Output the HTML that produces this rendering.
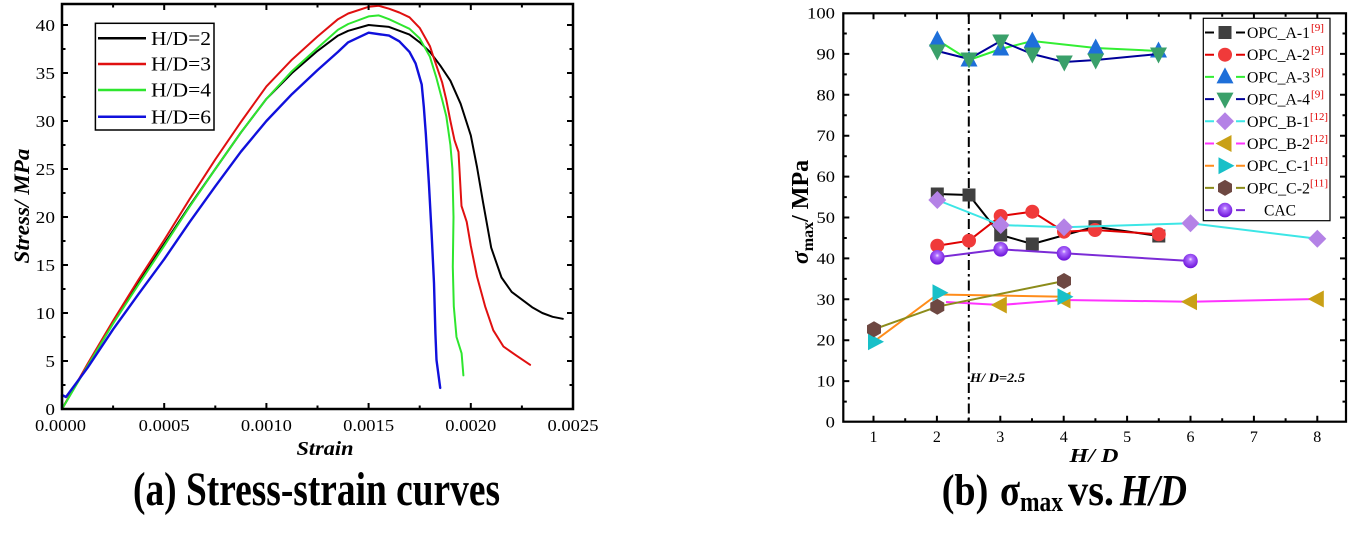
<!DOCTYPE html>
<html>
<head>
<meta charset="utf-8">
<style>
  html,body{margin:0;padding:0;background:#fff;}
  svg{display:block;}
  text{font-family:"Liberation Serif","DejaVu Serif",serif;fill:#000;}
</style>
</head>
<body>
<svg width="1353" height="537" viewBox="0 0 1353 537" xmlns="http://www.w3.org/2000/svg">
  <defs>
    <radialGradient id="sph" cx="50%" cy="38%" r="62%">
      <stop offset="0%" stop-color="#f4e8ff"/>
      <stop offset="22%" stop-color="#b070ff"/>
      <stop offset="100%" stop-color="#6a0fd8"/>
    </radialGradient>
  </defs>
  <rect x="0" y="0" width="1353" height="537" fill="#fff"/>

  <!-- ================= LEFT CHART ================= -->
  <g fill="none" stroke-linejoin="round" stroke-linecap="round" stroke-width="2">
    <polyline stroke="#000000" points="62,409 87.6,364.8 113.1,322.6 138.7,282.3 164.2,243.9 189.8,205.5 215.3,169 240.9,132.5 266.4,98.9 292,73 317.5,50.9 338,35.6 348.2,30.8 368.6,25 389,26.9 409.5,34.6 419.7,42.3 429.9,51.9 440.1,65.3 450.4,80.7 460.6,103.7 470.8,135.4 477,167 483.1,202.6 491.2,247.7 501.5,277.5 511.7,291.9 532.1,307.2 542.3,313 552.6,316.8 562.8,318.8"/>
    <polyline stroke="#e01010" points="62,409 87.6,363.9 113.1,320.7 138.7,279.4 164.2,240 189.8,198.8 215.3,159.4 240.9,122 266.4,86.4 292,59.6 317.5,36.5 338,19.2 348.2,13.5 368.6,6.8 378.8,5.8 389,8.7 399.3,12.5 409.5,17.3 419.7,27.9 429.9,46.1 434,58.6 442.2,82.6 446.3,99.9 450.4,121 454.5,140.2 458.5,152 461.5,206 466.7,221.8 470.8,245.8 477,276.5 485.1,306.3 493.3,330.3 503.5,346.6 515.8,355.2 530.1,364.8"/>
    <polyline stroke="#2ee62e" points="62,409 87.6,365.8 113.1,323.6 138.7,284.2 164.2,245.8 189.8,206.4 215.3,169 240.9,132.5 266.4,98.9 292,71.1 317.5,48 338,29.8 348.2,24 368.6,16.4 378.8,15.4 389,19.2 399.3,24 409.5,28.8 419.7,38.4 429.9,56.7 436.1,76.8 442.2,99.9 446.3,116.2 450.4,145 452.4,169 453.5,217 452.8,266.9 453.8,306.3 456.5,337 461.6,353.3 463.4,375.4"/>
    <polyline stroke="#1010dc" stroke-width="2.4" points="62,409 62,395 66,397 87.6,367.7 113.1,329.3 138.7,293.8 164.2,259.2 189.8,221.8 215.3,186.3 240.9,151.7 266.4,121 292,94.1 317.5,70.1 338,51.9 348.2,42.3 368.6,32.7 389,35.6 399.3,41.3 409.5,51.9 415.6,63.4 421.7,84.5 423.8,106.6 425.8,133.5 428.9,183.4 431.6,233.3 434,283.2 435.4,333.2 436.5,360 440.2,387.9"/>
  </g>

  <!-- frame -->
  <rect x="62" y="4" width="511" height="405" fill="none" stroke="#000" stroke-width="2.5"/>
  <!-- ticks -->
  <path stroke="#000" stroke-width="2" fill="none" d="
    M62,409v-6 M164.2,409v-6 M266.4,409v-6 M368.6,409v-6 M470.8,409v-6 M573,409v-6
    M113.1,409v-3.5 M215.3,409v-3.5 M317.5,409v-3.5 M419.7,409v-3.5 M521.9,409v-3.5
    M164.2,4v6 M266.4,4v6 M368.6,4v6 M470.8,4v6
    M113.1,4v3.5 M215.3,4v3.5 M317.5,4v3.5 M419.7,4v3.5 M521.9,4v3.5
    M62,361h6 M62,313h6 M62,265h6 M62,217h6 M62,169h6 M62,121h6 M62,73h6 M62,25h6
    M62,385h3.5 M62,337h3.5 M62,289h3.5 M62,241h3.5 M62,193h3.5 M62,145h3.5 M62,97h3.5 M62,49h3.5
    M573,361h-6 M573,313h-6 M573,265h-6 M573,217h-6 M573,169h-6 M573,121h-6 M573,73h-6 M573,25h-6
    M573,385h-3.5 M573,337h-3.5 M573,289h-3.5 M573,241h-3.5 M573,193h-3.5 M573,145h-3.5 M573,97h-3.5 M573,49h-3.5
  "/>
  <!-- y tick labels -->
  <g font-size="17" text-anchor="end">
    <text x="55" y="31" textLength="19.3" lengthAdjust="spacingAndGlyphs">40</text>
    <text x="55" y="79" textLength="19.3" lengthAdjust="spacingAndGlyphs">35</text>
    <text x="55" y="127" textLength="19.3" lengthAdjust="spacingAndGlyphs">30</text>
    <text x="55" y="175" textLength="19.3" lengthAdjust="spacingAndGlyphs">25</text>
    <text x="55" y="223" textLength="19.3" lengthAdjust="spacingAndGlyphs">20</text>
    <text x="55" y="271" textLength="19.3" lengthAdjust="spacingAndGlyphs">15</text>
    <text x="55" y="319" textLength="19.3" lengthAdjust="spacingAndGlyphs">10</text>
    <text x="55" y="367" textLength="9.6" lengthAdjust="spacingAndGlyphs">5</text>
    <text x="55" y="415" textLength="9.6" lengthAdjust="spacingAndGlyphs">0</text>
  </g>
  <!-- x tick labels -->
  <g font-size="17" text-anchor="middle">
    <text x="60.5" y="431" textLength="51" lengthAdjust="spacingAndGlyphs">0.0000</text>
    <text x="164.2" y="431" textLength="51" lengthAdjust="spacingAndGlyphs">0.0005</text>
    <text x="266.4" y="431" textLength="51" lengthAdjust="spacingAndGlyphs">0.0010</text>
    <text x="368.6" y="431" textLength="51" lengthAdjust="spacingAndGlyphs">0.0015</text>
    <text x="470.8" y="431" textLength="51" lengthAdjust="spacingAndGlyphs">0.0020</text>
    <text x="573" y="431" textLength="51" lengthAdjust="spacingAndGlyphs">0.0025</text>
  </g>
  <text x="325" y="455" font-size="20" font-weight="bold" font-style="italic" text-anchor="middle" textLength="57" lengthAdjust="spacingAndGlyphs">Strain</text>
  <text transform="translate(29,206) rotate(-90)" x="0" y="0" font-size="22" font-weight="bold" font-style="italic" text-anchor="middle" textLength="115" lengthAdjust="spacingAndGlyphs">Stress/ MPa</text>

  <!-- left legend -->
  <rect x="95.4" y="23.3" width="118.6" height="106.7" fill="#fff" stroke="#000" stroke-width="1.5"/>
  <g stroke-width="2.5">
    <line x1="98" y1="38.3" x2="146" y2="38.3" stroke="#000"/>
    <line x1="98" y1="64" x2="146" y2="64" stroke="#e01010"/>
    <line x1="98" y1="90" x2="146" y2="90" stroke="#2ee62e"/>
    <line x1="98" y1="116.7" x2="146" y2="116.7" stroke="#1010dc"/>
  </g>
  <g font-size="20">
    <text x="151" y="45" textLength="60" lengthAdjust="spacingAndGlyphs">H/D=2</text>
    <text x="151" y="70.7" textLength="60" lengthAdjust="spacingAndGlyphs">H/D=3</text>
    <text x="151" y="96.7" textLength="60" lengthAdjust="spacingAndGlyphs">H/D=4</text>
    <text x="151" y="123.4" textLength="60" lengthAdjust="spacingAndGlyphs">H/D=6</text>
  </g>

  <!-- ================= RIGHT CHART ================= -->
  <!-- dash-dot line at H/D=2.5 -->
  <line x1="968.8" y1="14" x2="968.8" y2="421" stroke="#000" stroke-width="2" stroke-dasharray="10,4,2.5,4"/>
  <text x="970" y="382" font-size="13" font-weight="bold" font-style="italic" textLength="55" lengthAdjust="spacingAndGlyphs">H/ D=2.5</text>

  <g fill="none" stroke-width="2" stroke-linejoin="round">
    <!-- A-1 -->
    <polyline stroke="#000" points="937.3,194 969,195 1000.7,235 1032.3,244 1095,226.7 1158.8,236"/>
  </g>
  <g fill="#404040">
    <rect x="930.8" y="187.5" width="13" height="13"/>
    <rect x="962.5" y="188.5" width="13" height="13"/>
    <rect x="994.2" y="228.5" width="13" height="13"/>
    <rect x="1025.8" y="237.5" width="13" height="13"/>
    <rect x="1088.5" y="220.2" width="13" height="13"/>
    <rect x="1152.3" y="229.5" width="13" height="13"/>
  </g>
  <!-- A-2 -->
  <polyline fill="none" stroke="#e00000" stroke-width="2" points="937.3,245.7 969,240.7 1000.7,216 1032.3,211.7 1064,231.7 1095,230 1158.8,234.3"/>
  <g fill="#f03a3a">
    <circle cx="937.3" cy="245.7" r="7"/>
    <circle cx="969" cy="240.7" r="7"/>
    <circle cx="1000.7" cy="216" r="7"/>
    <circle cx="1032.3" cy="211.7" r="7"/>
    <circle cx="1064" cy="231.7" r="7"/>
    <circle cx="1095" cy="230" r="7"/>
    <circle cx="1158.8" cy="234.3" r="7"/>
  </g>
  <!-- A-3 -->
  <polyline fill="none" stroke="#33ee33" stroke-width="2" points="937.3,40 969,60 1000.7,49 1032.3,41 1095.7,48 1158.5,51"/>
  <g fill="#1e6fd9">
    <polygon points="937.3,30.5 928.8,46.5 945.8,46.5"/>
    <polygon points="969,50.5 960.5,66.5 977.5,66.5"/>
    <polygon points="1000.7,39.5 992.2,55.5 1009.2,55.5"/>
    <polygon points="1032.3,31.5 1023.8,47.5 1040.8,47.5"/>
    <polygon points="1095.7,38.5 1087.2,54.5 1104.2,54.5"/>
    <polygon points="1158.5,41.5 1150,57.5 1167,57.5"/>
  </g>
  <!-- A-4 -->
  <polyline fill="none" stroke="#000099" stroke-width="2" points="937.3,51 969,59 1000.7,41 1032.3,54 1064.3,62 1095.7,60 1158.5,54"/>
  <g fill="#3aa06a">
    <polygon points="928.8,44.5 945.8,44.5 937.3,60.5"/>
    <polygon points="960.5,52.5 977.5,52.5 969,68.5"/>
    <polygon points="992.2,34.5 1009.2,34.5 1000.7,50.5"/>
    <polygon points="1023.8,47.5 1040.8,47.5 1032.3,63.5"/>
    <polygon points="1055.8,55.5 1072.8,55.5 1064.3,71.5"/>
    <polygon points="1087.2,53.5 1104.2,53.5 1095.7,69.5"/>
    <polygon points="1150,47.5 1167,47.5 1158.5,63.5"/>
  </g>
  <!-- B-1 -->
  <polyline fill="none" stroke="#3ce6e6" stroke-width="2" points="937.3,200 1000.7,225 1064,227.3 1190.5,223.3 1317.3,238.7"/>
  <g fill="#b482e6">
    <polygon points="937.3,191 946.3,200 937.3,209 928.3,200"/>
    <polygon points="1000.7,216 1009.7,225 1000.7,234 991.7,225"/>
    <polygon points="1064,218.3 1073,227.3 1064,236.3 1055,227.3"/>
    <polygon points="1190.5,214.3 1199.5,223.3 1190.5,232.3 1181.5,223.3"/>
    <polygon points="1317.3,229.7 1326.3,238.7 1317.3,247.7 1308.3,238.7"/>
  </g>
  <!-- B-2 -->
  <polyline fill="none" stroke="#ff33ff" stroke-width="2" points="946,302 1000.3,305 1064,300 1190.5,301.7 1317.3,299"/>
  <g fill="#c9a016">
    <polygon points="990.8,305 1006.8,296.5 1006.8,313.5"/>
    <polygon points="1054.5,300 1070.5,291.5 1070.5,308.5"/>
    <polygon points="1181,301.7 1197,293.2 1197,310.2"/>
    <polygon points="1307.8,299 1323.8,290.5 1323.8,307.5"/>
  </g>
  <!-- C-1 -->
  <polyline fill="none" stroke="#ff8c1a" stroke-width="2" points="876,340 937.3,294.5 1064,296.7"/>
  <g fill="#18c0c8">
    <polygon points="884,341.7 868,333.2 868,350.2"/>
    <polygon points="948.5,292.7 932.5,284.2 932.5,301.2"/>
    <polygon points="1073.5,296.7 1057.5,288.2 1057.5,305.2"/>
  </g>
  <!-- C-2 -->
  <polyline fill="none" stroke="#8c8c1a" stroke-width="2" points="874,329.3 937.3,306.7 1064,281"/>
  <g fill="#6e4842">
    <polygon points="874,321.3 881,325.3 881,333.3 874,337.3 867,333.3 867,325.3"/>
    <polygon points="937.3,298.7 944.3,302.7 944.3,310.7 937.3,314.7 930.3,310.7 930.3,302.7"/>
    <polygon points="1064,273 1071,277 1071,285 1064,289 1057,285 1057,277"/>
  </g>
  <!-- CAC -->
  <polyline fill="none" stroke="#7b2bd6" stroke-width="2" points="937.3,257.3 1000.7,249.3 1064,253.3 1190.5,261"/>
  <g fill="url(#sph)">
    <circle cx="937.3" cy="257.3" r="7.3"/>
    <circle cx="1000.7" cy="249.3" r="7.3"/>
    <circle cx="1064" cy="253.3" r="7.3"/>
    <circle cx="1190.5" cy="261" r="7.3"/>
  </g>

  <!-- frame -->
  <rect x="843.3" y="13.3" width="502.7" height="408.4" fill="none" stroke="#000" stroke-width="2.2"/>
  <path stroke="#000" stroke-width="2" fill="none" d="
    M873.5,421.7v-6 M936.9,421.7v-6 M1000.3,421.7v-6 M1063.7,421.7v-6 M1127.1,421.7v-6 M1190.5,421.7v-6 M1253.9,421.7v-6 M1317.3,421.7v-6
    M905.2,421.7v-3.5 M968.6,421.7v-3.5 M1032,421.7v-3.5 M1095.4,421.7v-3.5 M1158.8,421.7v-3.5 M1222.2,421.7v-3.5 M1285.6,421.7v-3.5
    M873.5,13.3v6 M936.9,13.3v6 M1000.3,13.3v6 M1063.7,13.3v6 M1127.1,13.3v6 M1190.5,13.3v6 M1253.9,13.3v6 M1317.3,13.3v6
    M905.2,13.3v3.5 M968.6,13.3v3.5 M1032,13.3v3.5 M1095.4,13.3v3.5 M1158.8,13.3v3.5 M1222.2,13.3v3.5 M1285.6,13.3v3.5
    M843.3,381.1h6 M843.3,340.2h6 M843.3,299.3h6 M843.3,258.4h6 M843.3,217.5h6 M843.3,176.6h6 M843.3,135.7h6 M843.3,94.8h6 M843.3,53.9h6
    M843.3,401.6h3.5 M843.3,360.7h3.5 M843.3,319.8h3.5 M843.3,278.9h3.5 M843.3,238h3.5 M843.3,197.1h3.5 M843.3,156.2h3.5 M843.3,115.3h3.5 M843.3,74.4h3.5 M843.3,33.5h3.5
    M1346,381.1h-6 M1346,340.2h-6 M1346,299.3h-6 M1346,258.4h-6 M1346,217.5h-6 M1346,176.6h-6 M1346,135.7h-6 M1346,94.8h-6 M1346,53.9h-6
    M1346,401.6h-3.5 M1346,360.7h-3.5 M1346,319.8h-3.5 M1346,278.9h-3.5 M1346,238h-3.5 M1346,197.1h-3.5 M1346,156.2h-3.5 M1346,115.3h-3.5 M1346,74.4h-3.5 M1346,33.5h-3.5
  "/>
  <!-- y labels -->
  <g font-size="16" text-anchor="end">
    <text x="835" y="18.5" textLength="28" lengthAdjust="spacingAndGlyphs">100</text>
    <text x="835" y="59.4" textLength="18.5" lengthAdjust="spacingAndGlyphs">90</text>
    <text x="835" y="100.3" textLength="18.5" lengthAdjust="spacingAndGlyphs">80</text>
    <text x="835" y="141.2" textLength="18.5" lengthAdjust="spacingAndGlyphs">70</text>
    <text x="835" y="182.1" textLength="18.5" lengthAdjust="spacingAndGlyphs">60</text>
    <text x="835" y="223" textLength="18.5" lengthAdjust="spacingAndGlyphs">50</text>
    <text x="835" y="263.9" textLength="18.5" lengthAdjust="spacingAndGlyphs">40</text>
    <text x="835" y="304.8" textLength="18.5" lengthAdjust="spacingAndGlyphs">30</text>
    <text x="835" y="345.7" textLength="18.5" lengthAdjust="spacingAndGlyphs">20</text>
    <text x="835" y="386.6" textLength="18.5" lengthAdjust="spacingAndGlyphs">10</text>
    <text x="835" y="427.5" textLength="9.3" lengthAdjust="spacingAndGlyphs">0</text>
  </g>
  <!-- x labels -->
  <g font-size="16" text-anchor="middle">
    <text x="873.5" y="442">1</text>
    <text x="936.9" y="442">2</text>
    <text x="1000.3" y="442">3</text>
    <text x="1063.7" y="442">4</text>
    <text x="1127.1" y="442">5</text>
    <text x="1190.5" y="442">6</text>
    <text x="1253.9" y="442">7</text>
    <text x="1317.3" y="442">8</text>
  </g>
  <text x="1094" y="462" font-size="20" font-weight="bold" font-style="italic" text-anchor="middle" textLength="49" lengthAdjust="spacingAndGlyphs">H/ D</text>
  <text transform="translate(808,212) rotate(-90)" x="0" y="0" font-size="24" font-weight="bold" text-anchor="middle"><tspan font-style="italic">σ</tspan><tspan font-size="16" dy="5">max</tspan><tspan dy="-5">/ MPa</tspan></text>

  <!-- right legend -->
  <rect x="1203.3" y="18.3" width="126.7" height="202.4" fill="#fff" stroke="#000" stroke-width="1.2"/>
  <g stroke-width="2">
    <path stroke="#000" d="M1205,32.5h9 M1236,32.5h9"/>
    <path stroke="#e00000" d="M1205,54.7h9 M1236,54.7h9"/>
    <path stroke="#33ee33" d="M1205,76.9h9 M1236,76.9h9"/>
    <path stroke="#000099" d="M1205,99.1h9 M1236,99.1h9"/>
    <path stroke="#3ce6e6" d="M1205,121.3h9 M1236,121.3h9"/>
    <path stroke="#ff33ff" d="M1205,143.5h9 M1236,143.5h9"/>
    <path stroke="#ff8c1a" d="M1205,165.7h9 M1236,165.7h9"/>
    <path stroke="#8c8c1a" d="M1205,187.9h9 M1236,187.9h9"/>
    <path stroke="#7b2bd6" d="M1205,210.1h9 M1236,210.1h9"/>
  </g>
  <rect x="1218.5" y="26" width="13" height="13" fill="#404040"/>
  <circle cx="1225" cy="54.7" r="7" fill="#f03a3a"/>
  <polygon points="1225,67.4 1216.5,83.4 1233.5,83.4" fill="#1e6fd9"/>
  <polygon points="1216.5,92.6 1233.5,92.6 1225,108.6" fill="#3aa06a"/>
  <polygon points="1225,112.3 1234,121.3 1225,130.3 1216,121.3" fill="#b482e6"/>
  <polygon points="1215.5,143.5 1231.5,135 1231.5,152" fill="#c9a016"/>
  <polygon points="1234.5,165.7 1218.5,157.2 1218.5,174.2" fill="#18c0c8"/>
  <polygon points="1225,179.9 1232,183.9 1232,191.9 1225,195.9 1218,191.9 1218,183.9" fill="#6e4842"/>
  <circle cx="1225" cy="210.1" r="7.3" fill="url(#sph)"/>
  <g font-size="16">
    <text x="1247" y="38" textLength="63" lengthAdjust="spacingAndGlyphs">OPC_A-1</text>
    <text x="1247" y="60.2" textLength="63" lengthAdjust="spacingAndGlyphs">OPC_A-2</text>
    <text x="1247" y="82.4" textLength="63" lengthAdjust="spacingAndGlyphs">OPC_A-3</text>
    <text x="1247" y="104.6" textLength="63" lengthAdjust="spacingAndGlyphs">OPC_A-4</text>
    <text x="1247" y="126.8" textLength="63" lengthAdjust="spacingAndGlyphs">OPC_B-1</text>
    <text x="1247" y="149" textLength="63" lengthAdjust="spacingAndGlyphs">OPC_B-2</text>
    <text x="1247" y="171.2" textLength="63" lengthAdjust="spacingAndGlyphs">OPC_C-1</text>
    <text x="1247" y="193.4" textLength="63" lengthAdjust="spacingAndGlyphs">OPC_C-2</text>
    <text x="1264" y="215.6" textLength="32" lengthAdjust="spacingAndGlyphs">CAC</text>
  </g>
  <g font-size="11" style="fill:#e00000">
    <text x="1311" y="31" style="fill:#e00000" textLength="13" lengthAdjust="spacingAndGlyphs">[9]</text>
    <text x="1311" y="53.2" style="fill:#e00000" textLength="13" lengthAdjust="spacingAndGlyphs">[9]</text>
    <text x="1311" y="75.4" style="fill:#e00000" textLength="13" lengthAdjust="spacingAndGlyphs">[9]</text>
    <text x="1311" y="97.6" style="fill:#e00000" textLength="13" lengthAdjust="spacingAndGlyphs">[9]</text>
    <text x="1310" y="119.8" style="fill:#e00000" textLength="18" lengthAdjust="spacingAndGlyphs">[12]</text>
    <text x="1310" y="142" style="fill:#e00000" textLength="18" lengthAdjust="spacingAndGlyphs">[12]</text>
    <text x="1310" y="164.2" style="fill:#e00000" textLength="18" lengthAdjust="spacingAndGlyphs">[11]</text>
    <text x="1310" y="186.4" style="fill:#e00000" textLength="18" lengthAdjust="spacingAndGlyphs">[11]</text>
  </g>

  <!-- ================= TITLES ================= -->
  <text x="133" y="505" font-size="48" font-weight="bold" textLength="367" lengthAdjust="spacingAndGlyphs">(a) Stress-strain curves</text>
  <text x="941.7" y="505" font-size="44" font-weight="bold" textLength="46.6" lengthAdjust="spacingAndGlyphs">(b)</text>
  <text x="1000" y="505" font-size="44" font-weight="bold" textLength="20" lengthAdjust="spacingAndGlyphs">σ</text>
  <text x="1020" y="511" font-size="28" font-weight="bold" textLength="43" lengthAdjust="spacingAndGlyphs">max</text>
  <text x="1068" y="505" font-size="44" font-weight="bold" textLength="46" lengthAdjust="spacingAndGlyphs">vs.</text>
  <text x="1120" y="505" font-size="44" font-weight="bold" font-style="italic" textLength="67" lengthAdjust="spacingAndGlyphs">H/D</text>
</svg>
</body>
</html>
